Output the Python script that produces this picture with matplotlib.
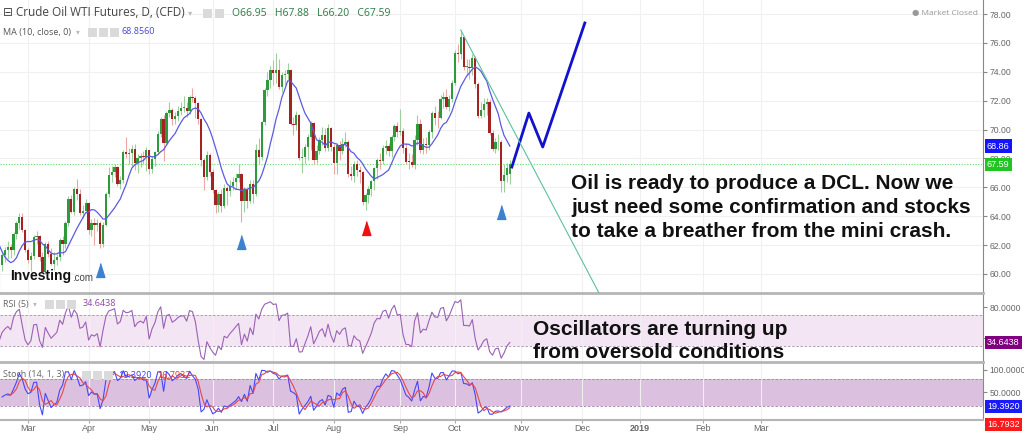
import numpy as np
import pandas as pd
import matplotlib
matplotlib.use('Agg')
import matplotlib.pyplot as plt
import matplotlib.transforms as mtransforms
from matplotlib.patches import Rectangle

plt.rcParams['font.family'] = ['Liberation Sans', 'DejaVu Sans']

# trading calendar (weekdays minus exchange holidays)
holidays = ['2018-02-19', '2018-03-30', '2018-05-28', '2018-07-04', '2018-09-03',
            '2018-11-22', '2018-12-25', '2019-01-01']
all_days = pd.bdate_range('2018-01-29', '2019-03-29')
all_days = all_days[~all_days.isin(pd.to_datetime(holidays))]

# daily OHLC, 2018-01-29 .. 2018-10-26 (Jan/early Feb only used for indicator warm-up)
opens = [
    66.14, 65.56, 64.50,
    64.73, 65.80, 65.45, 64.15, 63.39, 61.79, 61.15, 59.20, 59.29, 59.19, 60.60, 61.34, 61.68, 61.90, 61.68, 62.77, 63.55, 63.91, 63.01,
    61.64, 60.99, 61.25, 62.57, 62.60, 61.15, 60.12, 62.04, 61.36, 60.71, 60.96, 61.19, 62.34, 62.06, 63.54, 65.17, 64.30, 65.88, 65.55, 64.25, 64.38,
    64.94, 63.01, 63.51, 63.37, 63.54, 62.06, 63.42, 65.51, 66.82, 67.07, 67.39, 66.22, 66.52, 68.47, 68.29, 68.38, 68.64, 67.70, 68.05, 68.19, 68.10,
    68.57, 67.25, 67.93, 68.43, 69.72, 70.73, 69.06, 71.14, 71.36, 70.70, 70.96, 71.31, 71.49, 71.49, 71.28, 72.24, 72.20, 71.84, 70.71, 67.88, 66.73, 68.21,
    67.04, 65.81, 64.75, 65.52, 64.73, 65.95, 65.74, 66.10, 66.36, 66.64, 66.89, 65.06, 65.85, 65.07, 66.22, 65.54, 68.58, 68.08, 70.53, 72.76, 73.45,
    74.15, 73.94, 74.14, 72.94, 73.80, 73.85, 74.11, 70.38, 70.33, 71.01, 68.06, 68.08, 68.76, 69.46, 70.46, 67.89, 68.52, 69.30, 69.61, 68.69, 70.13,
    68.76, 67.66, 68.96, 68.49, 69.01, 69.17, 66.94, 66.81, 67.63, 67.20, 67.04, 65.01, 65.46, 65.91, 66.43, 67.35, 67.86, 67.83, 68.72, 68.87, 68.53, 69.51, 70.25,
    69.80, 69.87, 68.72, 67.77, 67.75, 67.54, 69.25, 70.37, 68.59, 68.99, 68.91, 69.85, 71.12, 70.80, 70.78, 72.08, 72.28, 71.57, 72.12,
    73.25, 75.30, 75.23, 76.41, 74.33, 74.34, 74.29, 74.96, 73.17, 70.97, 71.34, 71.78, 71.92, 69.75, 68.65, 69.12, 69.17, 66.43, 66.82, 66.95,
]
highs = [
    66.22, 65.62, 65.29,
    66.10, 66.25, 65.60, 64.40, 64.00, 62.30, 61.60, 59.90, 59.60, 60.90, 61.60, 61.90, 62.30, 62.10, 62.90, 63.70, 64.20, 64.25, 63.10,
    61.80, 61.50, 62.70, 63.00, 62.70, 61.50, 62.20, 62.30, 61.80, 61.50, 61.40, 62.50, 62.60, 63.70, 65.40, 65.50, 66.00, 66.60, 65.90, 64.80, 65.20,
    65.00, 63.80, 63.90, 63.80, 63.70, 63.60, 65.70, 67.40, 67.50, 67.60, 67.50, 66.80, 68.60, 69.50, 68.70, 68.90, 69.00, 68.30, 68.40, 68.50, 68.80,
    68.60, 68.20, 68.50, 69.90, 70.90, 71.00, 71.30, 71.90, 71.50, 71.20, 71.60, 71.90, 72.30, 71.90, 72.40, 72.90, 72.30, 71.90, 70.80, 68.00, 68.50, 68.40,
    67.30, 65.90, 65.70, 65.90, 66.20, 66.10, 66.50, 66.70, 67.00, 67.60, 67.00, 66.00, 66.00, 66.50, 66.50, 69.00, 69.40, 70.60, 72.90, 74.00, 74.40,
    74.80, 75.30, 74.90, 74.00, 74.10, 74.60, 74.20, 70.90, 71.30, 71.10, 68.70, 69.00, 69.70, 70.60, 70.50, 68.90, 69.50, 70.20, 70.10, 70.40, 70.20,
    69.00, 69.10, 69.20, 69.40, 69.80, 69.30, 67.50, 67.80, 67.90, 67.50, 67.10, 65.60, 66.10, 66.50, 67.40, 68.00, 68.40, 68.90, 69.30, 69.10, 69.60, 70.40, 70.50,
    71.40, 70.10, 69.10, 68.40, 68.30, 69.60, 71.00, 70.70, 69.40, 69.50, 70.00, 71.30, 71.60, 71.30, 72.40, 72.60, 72.80, 72.40, 73.40,
    75.50, 75.90, 76.90, 76.50, 74.90, 74.90, 75.20, 75.10, 73.30, 71.90, 72.20, 72.20, 72.10, 70.00, 69.40, 69.70, 69.30, 67.60, 67.70, 67.88,
]
lows = [
    65.31, 64.24, 63.67,
    64.60, 65.00, 63.70, 62.70, 61.60, 60.80, 58.07, 58.70, 58.50, 58.20, 60.20, 60.80, 61.00, 61.10, 61.30, 62.40, 63.10, 62.90, 61.50,
    60.75, 60.20, 61.00, 62.10, 60.90, 60.10, 60.00, 61.20, 60.60, 60.30, 60.60, 60.90, 61.30, 61.80, 63.30, 64.20, 64.10, 65.10, 64.10, 63.90, 64.20,
    62.80, 62.60, 62.00, 63.00, 61.80, 61.90, 63.30, 65.30, 66.40, 66.70, 66.10, 65.90, 66.30, 68.00, 67.60, 67.50, 67.20, 67.00, 67.40, 67.60, 67.10,
    66.90, 67.00, 67.50, 68.30, 69.50, 67.80, 68.90, 70.90, 70.30, 70.40, 70.60, 71.00, 71.20, 70.90, 71.10, 71.90, 70.80, 70.40, 67.50, 65.80, 66.50, 66.80,
    65.60, 64.20, 64.30, 64.30, 64.60, 64.80, 65.40, 65.80, 65.90, 66.40, 63.60, 64.30, 64.60, 64.90, 64.90, 65.40, 67.60, 67.90, 70.30, 72.30, 72.90,
    73.10, 73.20, 72.80, 72.60, 73.10, 73.40, 70.30, 69.60, 70.00, 67.90, 67.00, 67.60, 67.90, 68.60, 67.60, 67.70, 68.30, 68.90, 68.50, 68.50, 68.50,
    66.90, 66.90, 67.90, 68.30, 68.80, 66.70, 66.50, 66.40, 66.80, 66.30, 64.80, 64.43, 64.90, 65.40, 65.80, 66.60, 67.30, 67.60, 68.30, 68.20, 68.10, 69.20, 69.50,
    69.60, 68.40, 67.60, 67.30, 67.40, 67.30, 68.90, 68.40, 68.30, 68.40, 68.60, 69.40, 70.30, 70.10, 70.70, 71.50, 71.40, 71.30, 71.90,
    73.10, 74.70, 74.90, 74.10, 73.80, 73.50, 73.80, 72.90, 70.80, 70.80, 70.90, 71.00, 69.60, 68.50, 68.40, 68.60, 65.70, 65.70, 66.40, 66.20,
]
closes = [
    65.56, 64.50, 64.73,
    65.80, 65.45, 64.15, 63.39, 61.79, 61.15, 59.20, 59.29, 59.19, 60.60, 61.34, 61.68, 61.90, 61.68, 62.77, 63.55, 63.91, 63.01, 61.64,
    60.99, 61.25, 62.57, 62.60, 61.15, 60.12, 62.04, 61.36, 60.71, 60.96, 61.19, 62.34, 62.06, 63.54, 65.17, 64.30, 65.88, 65.55, 64.25, 64.38, 64.94,
    63.01, 63.51, 63.37, 63.54, 62.06, 63.42, 65.51, 66.82, 67.07, 67.39, 66.22, 66.52, 68.47, 68.29, 68.38, 68.64, 67.70, 68.05, 68.19, 68.10, 68.57,
    67.25, 67.93, 68.43, 69.72, 70.73, 69.06, 71.14, 71.36, 70.70, 70.96, 71.31, 71.49, 71.49, 71.28, 72.24, 72.20, 71.84, 70.71, 67.88, 66.73, 68.21, 67.04,
    65.81, 64.75, 65.52, 64.73, 65.95, 65.74, 66.10, 66.36, 66.64, 66.89, 65.06, 65.85, 65.07, 66.22, 65.54, 68.58, 68.08, 70.53, 72.76, 73.45, 74.15,
    73.94, 74.14, 72.94, 73.80, 73.85, 74.11, 70.38, 70.33, 71.01, 68.06, 68.08, 68.76, 69.46, 70.46, 67.89, 68.52, 69.30, 69.61, 68.69, 70.13, 68.76,
    67.66, 68.96, 68.49, 69.01, 69.17, 66.94, 66.81, 67.63, 67.20, 67.04, 65.01, 65.46, 65.91, 66.43, 67.35, 67.86, 67.83, 68.72, 68.87, 68.53, 69.51, 70.25, 69.80,
    69.87, 68.72, 67.77, 67.75, 67.54, 69.25, 70.37, 68.59, 68.99, 68.91, 69.85, 71.12, 70.80, 70.78, 72.08, 72.28, 71.57, 72.12, 73.25,
    75.30, 75.23, 76.41, 74.33, 74.34, 74.29, 74.96, 73.17, 70.97, 71.34, 71.78, 71.92, 69.75, 68.65, 69.12, 69.17, 66.43, 66.82, 67.33, 67.59,
]

# hand-drawn annotations
proj_offsets = [0.7, 6.6, 11.4, 26.0]      # bars after last candle
proj_prices = [67.40, 71.14, 68.79, 77.38]
trend_start = ('2018-10-03', 76.89)
trend_end_offset, trend_end_price = 47.9, 58.68
tri_dates = ['2018-04-06', '2018-06-15', '2018-08-16', '2018-10-23']
tri_prices = [60.27, 62.21, 63.18, 64.29]
tri_colors = ['#3d82d0', '#3d82d0', '#ee1111', '#3d82d0']

df = pd.DataFrame({'open': opens, 'high': highs, 'low': lows, 'close': closes},
                  index=all_days[:len(closes)])
x = np.arange(len(df))
o, h, l, c = df['open'].values, df['high'].values, df['low'].values, df['close'].values

ma = df['close'].rolling(10).mean()
delta = df['close'].diff()
gain = delta.clip(lower=0).ewm(alpha=1 / 5, adjust=False).mean()
loss = (-delta.clip(upper=0)).ewm(alpha=1 / 5, adjust=False).mean()
rsi = 100 - 100 / (1 + gain / loss)
ll = df['low'].rolling(14).min()
hh = df['high'].rolling(14).max()
stk = 100 * (df['close'] - ll) / (hh - ll)
std = stk.rolling(3).mean()

W, H = 1024, 434
def fx(px):
    return px / W
def fy(py):
    return 1 - py / H
def rect(top, bottom):
    return [0, 1 - bottom / H, 983 / W, (bottom - top) / H]

fig = plt.figure(figsize=(W / 100, H / 100), dpi=100)
ax = fig.add_axes(rect(0, 293))
ax_rsi = fig.add_axes(rect(295, 362))
ax_st = fig.add_axes(rect(364, 420))

i_mar1 = all_days.get_loc(pd.Timestamp('2018-03-01'))
xmin, xmax = i_mar1 - 9.7, i_mar1 + 331
month_starts = pd.date_range('2018-03-01', '2019-03-01', freq='MS')
mticks = [all_days.searchsorted(m) for m in month_starts]
mlabels = ['2019' if m.month == 1 else m.strftime('%b') for m in month_starts]

for a in (ax, ax_rsi, ax_st):
    a.set_xlim(xmin, xmax)
    for s in ('top', 'left'):
        a.spines[s].set_visible(False)
    a.spines['right'].set_color('#888888')
    a.spines['right'].set_linewidth(0.8)
    a.spines['bottom'].set_color('#b5b5b5')
    a.spines['bottom'].set_linewidth(2)
    a.yaxis.tick_right()
    a.tick_params(axis='y', direction='out', length=3, color='#888888',
                  labelsize=6.2, labelcolor='#666666', pad=1.5)
    a.set_xticks(mticks)
    a.grid(True, axis='x', color='#f0f0f0', lw=0.8)
    a.set_axisbelow(True)
ax.tick_params(axis='x', length=0, labelbottom=False)
ax_rsi.tick_params(axis='x', length=0, labelbottom=False)
ax_st.spines['bottom'].set_linewidth(1.5)
ax_st.set_xticklabels(mlabels)
ax_st.tick_params(axis='x', length=2, color='#aaaaaa', labelsize=6.5, labelcolor='#666666', pad=1)
for t in ax_st.get_xticklabels():
    if t.get_text() == '2019':
        t.set_fontweight('bold')

# price panel
ax.set_ylim(58.68, 78.97)
ax.set_yticks(np.arange(60, 79, 2))
ax.set_yticklabels(['%.2f' % v for v in np.arange(60, 79, 2)])
ax.grid(True, axis='y', color='#f0f0f0', lw=0.8)

up = c >= o
ax.vlines(x[up], l[up], h[up], color='#9fcf9f', lw=0.8, zorder=2)
ax.vlines(x[~up], l[~up], h[~up], color='#e8a8a8', lw=0.8, zorder=2)
body = np.maximum(np.abs(c - o), 0.05)
ax.bar(x[up], body[up], bottom=o[up], width=0.8, color='#2f9a3c', lw=0, zorder=3)
ax.bar(x[~up], body[~up], bottom=c[~up], width=0.8, color='#a52222', lw=0, zorder=3)
ax.plot(x, ma, color='#5b5be0', lw=0.9, zorder=4)
ax.axhline(c[-1], color='#66dd66', ls=(0, (1, 1.5)), lw=0.8, zorder=1)

i_last = x[-1]
ax.plot([i_last + d for d in proj_offsets], proj_prices, color='#1212cc', lw=2, zorder=5)
i_ts = all_days.get_loc(pd.Timestamp(trend_start[0]))
ax.plot([i_ts, i_ts + trend_end_offset], [trend_start[1], trend_end_price],
        color='#5cc0a0', lw=0.8, zorder=5)
tri = [(-1, -1.6), (1, -1.6), (0, 1.6)]
for d, p, col in zip(tri_dates, tri_prices, tri_colors):
    ax.plot([all_days.get_loc(pd.Timestamp(d))], [p], marker=tri, ms=10, color=col,
            ls='none', zorder=5)

blend = mtransforms.blended_transform_factory(ax.transAxes, ax.transData)
ax.text(1.004, ma.iloc[-1], '%.2f' % ma.iloc[-1], transform=blend, ha='left', va='center',
        fontsize=6.5, color='white', zorder=10, clip_on=False,
        bbox=dict(boxstyle='square,pad=0.25', fc='#1414ff', ec='none'))
ax.text(1.004, c[-1], '%.2f' % c[-1], transform=blend, ha='left', va='center',
        fontsize=6.5, color='white', zorder=10, clip_on=False,
        bbox=dict(boxstyle='square,pad=0.25', fc='#22c422', ec='none'))

# RSI panel
ax_rsi.set_ylim(9.4, 95.8)
ax_rsi.axhspan(30, 70, color='#f4e5f4', lw=0, zorder=0)
for v in (30, 70):
    ax_rsi.axhline(v, color='#b08ab0', ls=(0, (3, 2)), lw=0.6)
ax_rsi.plot(x, rsi, color='#9a62b4', lw=0.8)
ax_rsi.set_yticks([40, 80])
ax_rsi.set_yticklabels(['40.0000', '80.0000'])
blr = mtransforms.blended_transform_factory(ax_rsi.transAxes, ax_rsi.transData)
ax_rsi.text(1.004, 34.6438, '34.6438', transform=blr, ha='left', va='center',
            fontsize=6.5, color='white', zorder=10, clip_on=False,
            bbox=dict(boxstyle='square,pad=0.25', fc='#800080', ec='none'))

# Stochastic panel
ax_st.set_ylim(-10.9, 113)
ax_st.axhspan(20, 80, color='#dcc0df', lw=0, zorder=0)
for v in (20, 80):
    ax_st.axhline(v, color='#a080a8', ls=(0, (3, 2)), lw=0.6)
ax_st.plot(x, stk, color='#4646ff', lw=0.8)
ax_st.plot(x, std, color='#e24a4a', lw=0.8)
ax_st.set_yticks([50, 100])
ax_st.set_yticklabels(['50.0000', '100.0000'])
bls = mtransforms.blended_transform_factory(ax_st.transAxes, ax_st.transData)
ax_st.text(1.004, 19.392, '19.3920', transform=bls, ha='left', va='center',
           fontsize=6.5, color='white', zorder=10, clip_on=False,
           bbox=dict(boxstyle='square,pad=0.25', fc='#1a1aff', ec='none'))
ax_st.annotate('16.7932', xy=(1.004, 19.392), xycoords=bls, xytext=(0, -13),
               textcoords='offset points', ha='left', va='center', fontsize=6.5,
               color='white', zorder=10, annotation_clip=False,
               bbox=dict(boxstyle='square,pad=0.25', fc='#ff1a1a', ec='none'))

# header / legend texts
def icons(px_list, py):
    for px in px_list:
        fig.add_artist(Rectangle((fx(px), fy(py + 4.5)), 9 / W, 9 / H, transform=fig.transFigure,
                                 fc='#dadada', ec='none'))

fig.text(fx(3), fy(13), '\u229f Crude Oil WTI Futures, D, (CFD)', fontsize=8.5,
         color='#444444', va='center', family=['Open Sans', 'DejaVu Sans'])
fig.text(fx(188), fy(13), '\u25be', fontsize=6, color='#bbbbbb', va='center', family='DejaVu Sans')
icons([203, 215], 13)
fig.text(fx(232), fy(13), 'O66.95   H67.88   L66.20   C67.59', fontsize=7.5,
         color='#2b7a45', va='center', family='Open Sans')
fig.text(fx(3), fy(32), 'MA (10, close, 0)', fontsize=6.5, color='#555555', va='center',
         family='Open Sans')
fig.text(fx(76), fy(32), '\u25be', fontsize=5.5, color='#bbbbbb', va='center', family='DejaVu Sans')
icons([88, 99, 110], 32)
fig.text(fx(122), fy(32), '%.4f' % ma.iloc[-1], fontsize=6.5, color='#4646cc', va='center',
         family='Open Sans')
fig.text(fx(978), fy(13), '\u25cf Market Closed', fontsize=6, color='#999999', va='center',
         ha='right', family=['Open Sans', 'DejaVu Sans'])

fig.text(fx(3), fy(304), 'RSI (5)', fontsize=6.5, color='#666666', va='center', family='Open Sans')
fig.text(fx(33), fy(304), '\u25be', fontsize=5.5, color='#bbbbbb', va='center', family='DejaVu Sans')
icons([45, 56, 67], 304)
fig.text(fx(83), fy(304), '34.6438', fontsize=6.5, color='#8e44ad', va='center', family='Open Sans')
fig.text(fx(3), fy(375), 'Stoch (14, 1, 3)', fontsize=6.5, color='#666666', va='center',
         family='Open Sans')
icons([82, 93, 104], 375)
fig.text(fx(118), fy(375), '19.3920', fontsize=6.5, color='#3a3aff', va='center', family='Open Sans')
fig.text(fx(157), fy(375), '16.7932', fontsize=6.5, color='#ee3333', va='center', family='Open Sans')

fig.text(fx(10), fy(276), 'Investing', fontsize=10, fontweight='bold', color='#111111',
         va='center', family='Liberation Sans')
fig.text(fx(72), fy(278), '.com', fontsize=7, color='#444444', va='center',
         family='Liberation Sans')

# commentary
fig.text(fx(571), fy(174), 'Oil is ready to produce a DCL. Now we\n'
         'just need some confirmation and stocks\n'
         'to take a breather from the mini crash.',
         fontsize=15, fontweight='bold', color='#111111', va='top', ha='left',
         linespacing=1.33, family='Liberation Sans')
fig.text(fx(533), fy(320), 'Oscillators are turning up\nfrom oversold conditions',
         fontsize=15, fontweight='bold', color='#111111', va='top', ha='left',
         linespacing=1.3, family='Liberation Sans')

fig.savefig('out.png', dpi=100)
